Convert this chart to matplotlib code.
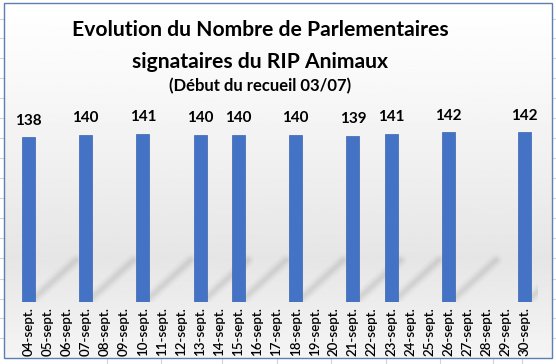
import numpy as np
import matplotlib; matplotlib.use("Agg")
import matplotlib.pyplot as plt
from matplotlib.patches import Rectangle

# --- data ---
days = ["04-sept.", "05-sept.", "06-sept.", "07-sept.", "08-sept.", "09-sept.",
        "10-sept.", "11-sept.", "12-sept.", "13-sept.", "14-sept.", "15-sept.",
        "16-sept.", "17-sept.", "18-sept.", "19-sept.", "20-sept.", "21-sept.",
        "22-sept.", "23-sept.", "24-sept.", "25-sept.", "26-sept.", "27-sept.",
        "28-sept.", "29-sept.", "30-sept."]
bar_days = ["04-sept.", "07-sept.", "10-sept.", "13-sept.", "15-sept.",
            "18-sept.", "21-sept.", "23-sept.", "26-sept.", "30-sept."]
counts = [138, 140, 141, 140, 140, 140, 139, 141, 142, 142]

title1 = "Evolution du Nombre de Parlementaires"
title2 = "signataires du RIP Animaux"
subtitle = "(Début du recueil 03/07)"

W, H = 556, 364
fig = plt.figure(figsize=(W / 100, H / 100), dpi=100)
fig.patch.set_facecolor("white")

# sheet grid behind the chart (Excel look)
bg = fig.add_axes([0, 0, 1, 1]); bg.set_xlim(0, W); bg.set_ylim(H, 0); bg.axis("off")
for x in [107, 161, 222, 277, 331, 386, 440, 493, 522]:
    bg.plot([x, x], [358, H], color="#d4d4d4", lw=0.8)
for y in [19, 38, 58, 78, 98, 118, 138, 158, 178, 198, 218, 238, 258, 279, 299, 318, 338]:
    bg.plot([0, 4], [y, y], color="#d4d4d4", lw=0.8)
    bg.plot([552, W], [y, y], color="#d4d4d4", lw=0.8)

# chart area: vertical gradient white -> light grey -> lighter
grad = np.interp(np.linspace(0, 1, 256), [0, 0.25, 0.72, 1.0], [1.0, 0.97, 0.90, 0.96])
bg.imshow(np.tile(grad[:, None], (1, 2)), cmap="gray", vmin=0, vmax=1, aspect="auto",
          extent=[4, 552, 358, 3], zorder=1)
bg.add_patch(Rectangle((4, 3), 548, 355, fill=False, ec="#5b7fb0", lw=1.0, zorder=2))

cx = 260
bg.text(cx, 30, title1, ha="center", va="center", fontsize=15.2, fontweight="bold",
        family="Lato", zorder=3)
bg.text(cx, 62, title2, ha="center", va="center", fontsize=15.2, fontweight="bold",
        family="Lato", zorder=3)
bg.text(cx, 86, subtitle, ha="center", va="center", fontsize=12, fontweight="bold",
        family="Lato", zorder=3)

# --- bars ---
ax = fig.add_axes([15 / W, 62 / H, 523 / W, 191 / H])
ax.patch.set_alpha(0)
xpos = [days.index(d) for d in bar_days]

# soft diagonal shadows behind the bars
for x in xpos:
    for lw, a in [(9, 0.03), (6, 0.05), (3, 0.07)]:
        ax.plot([x + 0.3, x + 2.5], [3, 35], color="#555555", lw=lw, alpha=a,
                solid_capstyle="round", zorder=2)

ax.bar(xpos, counts, width=0.68, color="#4472c4", ec="#3a64b0", lw=0.5, zorder=3)
for x, v in zip(xpos, counts):
    ax.annotate(str(v), (x, v), xytext=(0, 7), textcoords="offset points",
                ha="center", va="bottom", fontsize=11, fontweight="bold", family="Lato")
ax.set_xlim(-0.7, 26.7)
ax.set_ylim(0, 160)
ax.set_xticks(range(len(days)))
ax.set_xticklabels(days, rotation=90, fontsize=9.6, family="Lato", fontweight="semibold",
                   color="black")
ax.tick_params(axis="x", length=0, pad=4)
ax.set_yticks([])
for s in ax.spines.values():
    s.set_visible(False)

fig.savefig("out.png", dpi=100)
